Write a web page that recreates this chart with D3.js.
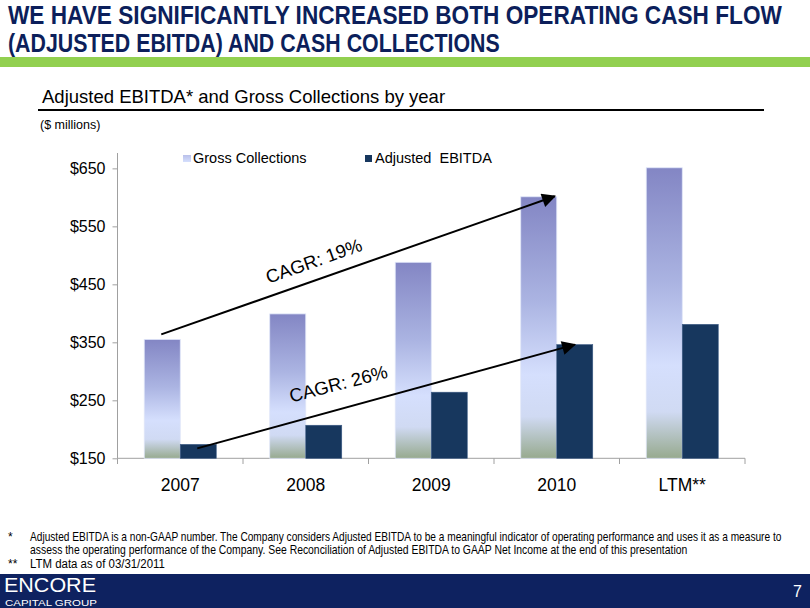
<!DOCTYPE html>
<html><head><meta charset="utf-8">
<script src="https://cdn.jsdelivr.net/npm/d3@7"></script>
<style>
body{margin:0;padding:0;background:#fff;}
svg{display:block;}
</style></head>
<body>
<svg id="c" width="810" height="608"></svg>
<script>
const categories = ["2007","2008","2009","2010","LTM**"];
const grossCollections = [355, 399, 488, 601, 651];
const adjustedEbitda = [174, 207, 264, 346, 381];
const yTicks = [150, 250, 350, 450, 550, 650];
const seriesNames = ["Gross Collections", "Adjusted  EBITDA"];
const cagrLabels = ["CAGR: 19%", "CAGR: 26%"];

const svg = d3.select("#c");
const font = "Arial, 'Liberation Sans', sans-serif";

// condensed text helper: scale horizontally to a target width
function narrowText(parent, x, yy, txt, w, size, opts = {}) {
  const g = parent.append("g");
  const t = g.append("text").attr("x", 0).attr("y", 0)
    .attr("font-family", font).attr("font-size", size)
    .attr("fill", opts.fill || "#000").attr("font-weight", opts.weight || "normal").text(txt);
  const nat = t.node().getComputedTextLength();
  g.attr("transform", `translate(${x},${yy}) scale(${w / nat},1)`);
  return g;
}

// Title
narrowText(svg, 8, 24, "WE HAVE SIGNIFICANTLY INCREASED BOTH OPERATING CASH FLOW", 774, 25.5, {fill: "#0c1f5b", weight: "bold"});
narrowText(svg, 8, 52, "(ADJUSTED EBITDA) AND CASH COLLECTIONS", 492, 25.5, {fill: "#0c1f5b", weight: "bold"});
svg.append("rect").attr("x", 0).attr("y", 57).attr("width", 810).attr("height", 10).attr("fill", "#92d050");

// Subtitle
svg.append("text").attr("x", 42).attr("y", 103).attr("font-family", font).attr("font-size", 18.5)
  .attr("fill", "#000").text("Adjusted EBITDA* and Gross Collections by year");
svg.append("line").attr("x1", 38).attr("x2", 764).attr("y1", 110).attr("y2", 110)
  .attr("stroke", "#000").attr("stroke-width", 2);
svg.append("text").attr("x", 40).attr("y", 129).attr("font-family", font).attr("font-size", 12.5)
  .text("($ millions)");

// Scales
const x0 = d3.scaleBand().domain(categories).range([117.5, 745]).paddingInner(0).paddingOuter(0);
const y = d3.scaleLinear().domain([150, 676.5]).range([458.3, 153]);
const barW = 36;

// Gradient
const defs = svg.append("defs");
const g1 = defs.append("linearGradient").attr("id", "gc").attr("x1", 0).attr("x2", 0).attr("y1", 0).attr("y2", 1);
g1.append("stop").attr("offset", "0%").attr("stop-color", "#8386c4");
g1.append("stop").attr("offset", "40%").attr("stop-color", "#abb4e2");
g1.append("stop").attr("offset", "68%").attr("stop-color", "#d5dffd");
g1.append("stop").attr("offset", "84%").attr("stop-color", "#d0daf3");
g1.append("stop").attr("offset", "100%").attr("stop-color", "#97aa8f");
const lg = defs.append("linearGradient").attr("id", "lg").attr("x1", 0).attr("x2", 0).attr("y1", 0).attr("y2", 1);
lg.append("stop").attr("offset", "0%").attr("stop-color", "#b9c0ea");
lg.append("stop").attr("offset", "100%").attr("stop-color", "#d5dffd");

// Axes
const yAxis = svg.append("g").attr("transform", "translate(117.5,0)")
  .call(d3.axisLeft(y).tickValues(yTicks).tickSize(5).tickPadding(7).tickFormat(d => "$" + d));
yAxis.select(".domain").attr("stroke", "#a0a0a0").attr("d", `M0,${y.range()[1]}V${y.range()[0]}`);
yAxis.selectAll(".tick line").attr("stroke", "#a0a0a0");
yAxis.selectAll(".tick text").attr("font-family", font).attr("font-size", 16).attr("fill", "#000");

const xAxis = svg.append("g").attr("transform", "translate(0,458.3)")
  .call(d3.axisBottom(x0).tickSize(0).tickPadding(20));
xAxis.select(".domain").attr("stroke", "#a0a0a0").attr("d", `M117.5,0H745`);
xAxis.selectAll(".tick text").attr("font-family", font).attr("font-size", 17.5).attr("fill", "#000");
const bounds = categories.map(c => x0(c)).concat([x0.range()[1]]);
svg.append("g").selectAll("line").data(bounds).join("line")
  .attr("x1", d => d).attr("x2", d => d).attr("y1", 458.3).attr("y2", 464)
  .attr("stroke", "#a0a0a0");

// Bars
const bars = svg.append("g");
bars.selectAll("rect.gc").data(grossCollections).join("rect").attr("class", "gc")
  .attr("x", (d, i) => x0(categories[i]) + x0.bandwidth() / 2 - barW)
  .attr("width", barW)
  .attr("y", d => y(d)).attr("height", d => y(150) - y(d))
  .attr("fill", "url(#gc)").attr("stroke", "#dfe5f8").attr("stroke-width", 0.8);
bars.selectAll("rect.eb").data(adjustedEbitda).join("rect").attr("class", "eb")
  .attr("x", (d, i) => x0(categories[i]) + x0.bandwidth() / 2)
  .attr("width", barW)
  .attr("y", d => y(d)).attr("height", d => y(150) - y(d))
  .attr("fill", "#17375e").attr("stroke", "#3b5a85").attr("stroke-width", 0.6);

// Legend
const leg = svg.append("g").attr("font-family", font).attr("font-size", 14.5);
leg.append("rect").attr("x", 183).attr("y", 155).attr("width", 8).attr("height", 7).attr("fill", "url(#lg)");
leg.append("text").attr("x", 193).attr("y", 163).text(seriesNames[0]);
leg.append("rect").attr("x", 365).attr("y", 155).attr("width", 7).attr("height", 7).attr("fill", "#17375e");
leg.append("text").attr("x", 375).attr("y", 163).style("white-space", "pre").text(seriesNames[1]);

// Arrows
defs.append("marker").attr("id", "ah").attr("viewBox", "0 0 10 10").attr("refX", 9).attr("refY", 5)
  .attr("markerWidth", 20).attr("markerHeight", 14).attr("markerUnits", "userSpaceOnUse")
  .attr("orient", "auto")
  .append("path").attr("d", "M0,0L10,5L0,10z").attr("fill", "#000");

const cx = i => x0(categories[i]) + x0.bandwidth() / 2;
svg.append("line").attr("x1", cx(0) - 19).attr("y1", y(grossCollections[0]) - 5)
  .attr("x2", cx(3) - 2).attr("y2", y(grossCollections[3]) - 0.5)
  .attr("stroke", "#000").attr("stroke-width", 2).attr("marker-end", "url(#ah)");
svg.append("line").attr("x1", cx(0) + 17).attr("y1", y(adjustedEbitda[0]) + 4)
  .attr("x2", cx(3) + 18).attr("y2", y(adjustedEbitda[3]))
  .attr("stroke", "#000").attr("stroke-width", 2).attr("marker-end", "url(#ah)");

svg.append("text").attr("transform", "translate(316,267) rotate(-19.5)")
  .attr("text-anchor", "middle").attr("font-family", font).attr("font-size", 18.5).text(cagrLabels[0]);
svg.append("text").attr("transform", "translate(340,390) rotate(-14.5)")
  .attr("text-anchor", "middle").attr("font-family", font).attr("font-size", 18.5).text(cagrLabels[1]);

// Footnotes
const fn = svg.append("g");
const fnLines = [
  {m: "*", t: "Adjusted EBITDA is a non-GAAP number. The Company considers Adjusted EBITDA to be a meaningful indicator of operating performance and uses it as a measure to", y: 541, w: 752},
  {m: "", t: "assess the operating performance of the Company. See Reconciliation of Adjusted EBITDA to GAAP Net Income at the end of this presentation", y: 554, w: 658},
  {m: "**", t: "LTM data as of 03/31/2011", y: 568, w: 135}
];
fnLines.forEach(l => {
  if (l.m) fn.append("text").attr("x", 8).attr("y", l.y).attr("font-family", font).attr("font-size", 12).text(l.m);
  narrowText(fn, 30, l.y, l.t, l.w, 12.5);
});

// Footer
svg.append("rect").attr("x", 0).attr("y", 574).attr("width", 810).attr("height", 34).attr("fill", "#0e2260");
narrowText(svg, 4, 592, "ENCORE", 92, 21, {fill: "#fff"});
narrowText(svg, 5, 606, "CAPITAL GROUP", 92, 9, {fill: "#fff"});
svg.append("text").attr("x", 793).attr("y", 597).attr("font-family", font).attr("font-size", 16)
  .attr("fill", "#fff").text("7");
</script>
</body></html>
